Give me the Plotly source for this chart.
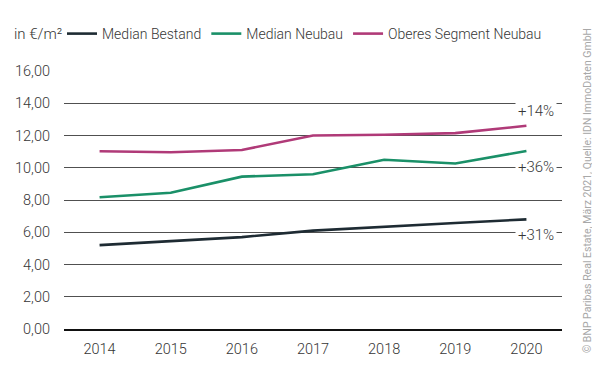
import plotly.graph_objects as go

years = ["2014", "2015", "2016", "2017", "2018", "2019", "2020"]
median_bestand = [5.2, 5.45, 5.7, 6.1, 6.35, 6.57, 6.8]
median_neubau = [8.17, 8.45, 9.45, 9.6, 10.5, 10.26, 11.04]
oberes_segment = [11.02, 10.96, 11.1, 12.0, 12.05, 12.15, 12.6]

series_names = ["Median Bestand", "Median Neubau", "Oberes Segment Neubau"]
series_colors = ["#1e2b33", "#1a9068", "#b03a78"]
change_labels = ["+31%", "+36%", "+14%"]
label_y = [5.8, 10.02, 13.5]

y_ticks = [0, 2, 4, 6, 8, 10, 12, 14, 16]
y_tick_text = ["0,00", "2,00", "4,00", "6,00", "8,00", "10,00", "12,00", "14,00", "16,00"]

FONT = "Roboto"
TXT = "#363636"
OFF = 8  # page body margin

fig = go.Figure()
for name, vals, col in zip(series_names, [median_bestand, median_neubau, oberes_segment], series_colors):
    fig.add_trace(go.Scatter(x=years, y=vals, name=name, mode="lines",
                             line=dict(color=col, width=2.6)))

W, H = 600 - OFF, 381 - OFF
# page coords of plot area: left 64, right 562, top 71, bottom 329
L = 64 - OFF
R = W - (562 - OFF)
T = 71 - OFF
B = H - (329 - OFF)
pw = W - L - R
ph = H - T - B

def px_x(p):
    return (p - OFF - L) / pw

def px_y(p):
    return (H - B - (p - OFF)) / ph

annotations = []
for lab, yv in zip(change_labels, label_y):
    annotations.append(dict(x=px_x(536), xref="paper", y=yv, yref="y", text=lab,
                            xanchor="center", yanchor="middle",
                            showarrow=False, bgcolor="white", borderpad=2,
                            font=dict(family=FONT, size=15, color=TXT, weight=300)))
annotations.append(dict(x=px_x(12), xref="paper", y=px_y(34), yref="paper", text="in €/m²",
                        xanchor="left", yanchor="middle", showarrow=False,
                        font=dict(family=FONT, size=15, color=TXT, weight=300)))
annotations.append(dict(x=px_x(587), xref="paper", y=px_y(191), yref="paper",
                        xanchor="center", yanchor="middle",
                        text="© BNP Paribas Real Estate, März 2021, Quelle: IDN ImmoDaten GmbH",
                        textangle=-90, showarrow=False,
                        font=dict(family=FONT, size=10.5, color="#a8a8a8")))

fig.update_layout(
    width=W, height=H,
    margin=dict(l=L, r=R, t=T, b=B, autoexpand=False),
    paper_bgcolor="white", plot_bgcolor="white",
    font=dict(family=FONT, size=14, color=TXT),
    showlegend=True,
    legend=dict(orientation="h", xref="container", yref="container",
                x=(67 - OFF - 5) / W, y=1 - (34 - OFF) / H, xanchor="left", yanchor="middle",
                itemwidth=30, tracegroupgap=0,
                font=dict(family=FONT, size=14, color=TXT, weight=300), bgcolor="rgba(0,0,0,0)"),
    annotations=annotations,
    xaxis=dict(type="category", range=[-0.5, 6.5], showgrid=False,
               showline=True, linecolor="#111111", linewidth=2,
               ticks="", ticklabelstandoff=6,
               tickfont=dict(family=FONT, size=14.5, color=TXT, weight=300)),
    yaxis=dict(range=[0, 16], tickvals=y_ticks, ticktext=y_tick_text,
               showgrid=True, gridcolor="#505050", gridwidth=1,
               zeroline=False, showline=False, ticks="", ticklabelstandoff=13,
               tickfont=dict(family=FONT, size=14.5, color=TXT, weight=300)),
)

fig.write_html("out.html")
